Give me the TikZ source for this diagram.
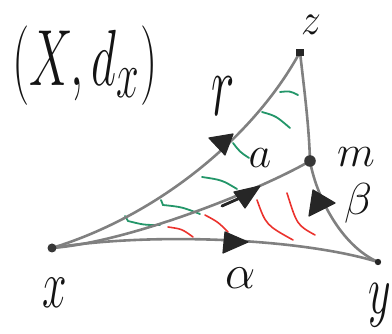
\documentclass[tikz,border=0pt]{standalone}
\usepackage{graphicx}
\usetikzlibrary{calc}
\definecolor{linegray}{RGB}{128,128,128}
\definecolor{dotdark}{RGB}{55,55,55}
\definecolor{tipdark}{RGB}{38,38,38}
\definecolor{hgreen}{RGB}{35,150,105}
\definecolor{hred}{RGB}{235,50,45}
\definecolor{ink}{RGB}{20,20,20}
\begin{document}
\begin{tikzpicture}[x=1pt,y=-1pt,
  edge/.style={draw=linegray, line width=2.6pt, line cap=round},
  greenh/.style={draw=hgreen, line width=1.8pt, line cap=round},
  redh/.style={draw=hred, line width=1.6pt, line cap=round},
  tipfill/.style={fill=tipdark, draw=tipdark, line width=1.2pt, line join=round},
  lab/.style={inner sep=0pt, text=ink, font=\Huge}]
\useasboundingbox (0,0) rectangle (392,334);
% points
\coordinate (x) at (52,248);
\coordinate (y) at (378,262);
\coordinate (z) at (300,52);
\coordinate (m) at (310,161);
% hatches
\draw[greenh] (280,92) .. controls (290,91) .. (298,95);
\draw[greenh] (262,112) .. controls (276,116) .. (290,128);
\draw[greenh] (233,143) .. controls (240,152) .. (249,158);
\draw[greenh] (202,177) .. controls (222,180) .. (237,189);
\draw[greenh] (161,200) -- (163,205) .. controls (182,207) .. (200,214);
\draw[greenh] (125,216) -- (128,221) .. controls (144,225) .. (160,225);
\draw[redh] (168,227) .. controls (182,229) .. (193,237);
\draw[redh] (205,215) .. controls (218,222) .. (228,232);
\draw[redh] (257,200) .. controls (266,225) .. (293,240);
\draw[redh] (287,193) .. controls (297,225) .. (315,235);
% sides
\draw[edge] (x) .. controls (160,215) and (255,135) .. (z);
\draw[edge] (z) .. controls (304,88) and (309,125) .. (m);
\draw[edge] (x) .. controls (130,242) and (260,190) .. (m);
\draw[edge] (x) .. controls (150,232) and (300,238) .. (y);
\draw[edge] (m) .. controls (316,195) and (340,245) .. (y);
% arrowheads
\fill[tipfill] (209,138) -- (233,134) -- (225,155) -- cycle;
\draw[tipdark, line width=2.8pt, line cap=round] (222,206) -- (240,198);
\fill[tipfill] (234,192) -- (260,186) -- (245,208) -- cycle;
\fill[tipfill] (225,232) -- (248,242) -- (223,253) -- cycle;
\fill[tipfill] (313,190) -- (335,203) -- (309,216) -- cycle;
% vertex marks
\fill[dotdark] (x) circle (4.5);
\fill[dotdark] (m) circle (5.8);
\fill[tipdark] ($(z)+(-4,-3)$) rectangle ($(z)+(4,4)$);
\fill[tipdark] (y) circle (3.2);
% labels
\node[lab] (title) at (85,66) {\scalebox{1.96}[3.2]{$(X,d_x)$}};
\node[lab] (zl) at (311,25) {\scalebox{1.6}[1.8]{$z$}};
\node[lab] (rl) at (223,96) {\scalebox{2.0}[3.6]{$r$}};
\node[lab] (al) at (260,158) {\scalebox{1.77}{$a$}};
\node[lab] (ml) at (356,157) {\scalebox{1.77}{$m$}};
\node[lab] (bl) at (358,203) {\scalebox{1.85}[1.8]{$\beta$}};
\node[lab] (alphal) at (241,278) {\scalebox{1.93}{$\alpha$}};
\node[lab] (xl) at (55,293) {\scalebox{1.77}[2.74]{$x$}};
\node[lab] (yl) at (380,305) {\scalebox{1.77}[2.8]{$y$}};
\end{tikzpicture}
\end{document}
